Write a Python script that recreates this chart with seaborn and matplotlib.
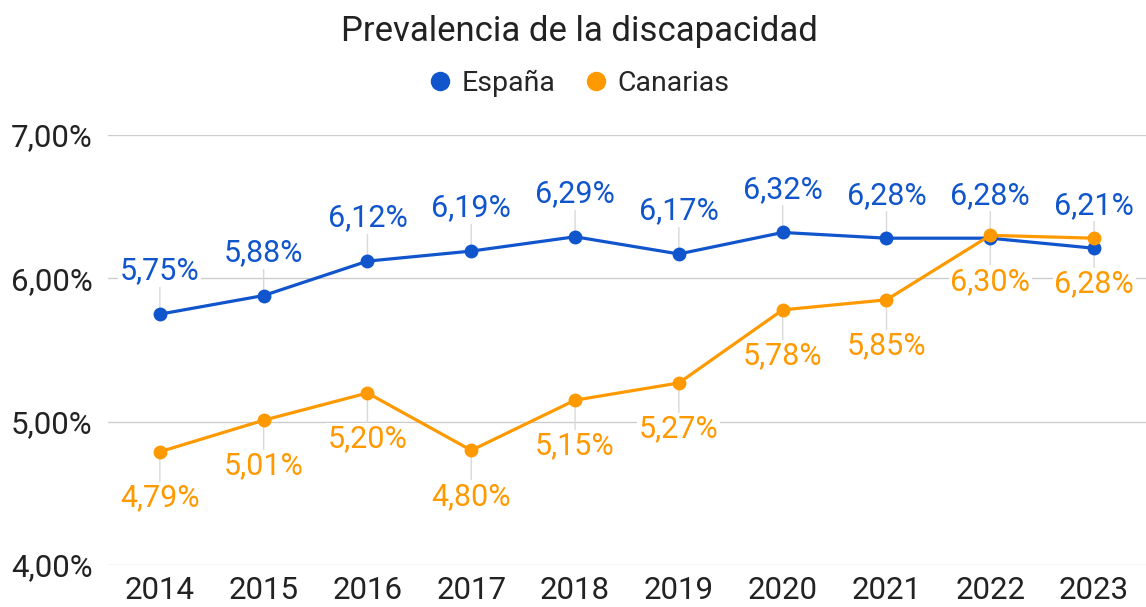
import matplotlib
matplotlib.use("Agg")
import matplotlib.pyplot as plt
from matplotlib.lines import Line2D
import seaborn as sns
import pandas as pd

# data
years = [2014, 2015, 2016, 2017, 2018, 2019, 2020, 2021, 2022, 2023]
espana = [5.75, 5.88, 6.12, 6.19, 6.29, 6.17, 6.32, 6.28, 6.28, 6.21]
canarias = [4.79, 5.01, 5.20, 4.80, 5.15, 5.27, 5.78, 5.85, 6.30, 6.28]
series = ["España", "Canarias"]
colors = {"España": "#1155cc", "Canarias": "#ff9900"}

df = pd.DataFrame({
    "year": years * 2,
    "value": espana + canarias,
    "serie": [series[0]] * len(years) + [series[1]] * len(years),
})

sns.set_style("white")
plt.rcParams["font.family"] = ["Roboto", "DejaVu Sans"]

fig = plt.figure(figsize=(11.46, 6.07), dpi=100)
ax = fig.add_axes([0.0942, 0.0692, 0.9058, 0.7084])

sns.lineplot(data=df, x="year", y="value", hue="serie", palette=colors,
             marker="o", markersize=10, markeredgewidth=0, linewidth=2.3,
             ax=ax, legend=False, zorder=3)

ax.set_xlim(2013.5, 2023.5)
ax.set_ylim(4, 7)
ax.set_yticks([4, 5, 6, 7])
ax.set_yticklabels(["4,00%", "5,00%", "6,00%", "7,00%"])
ax.set_xticks(years)
ax.set_xticklabels([str(y) for y in years])
ax.tick_params(axis="both", length=0, labelsize=22.5, colors="#222222")
ax.tick_params(axis="y", pad=11)
ax.tick_params(axis="x", pad=8)
ax.grid(axis="y", color="#cccccc", linewidth=1)
ax.set_xlabel("")
ax.set_ylabel("")
for s in ax.spines.values():
    s.set_visible(False)

def fmt(v):
    return f"{v:.2f}%".replace(".", ",")

for name, vals, dy in [("España", espana, 31), ("Canarias", canarias, -33)]:
    for x, v in zip(years, vals):
        ax.annotate(fmt(v), xy=(x, v), xytext=(0, dy), textcoords="offset points",
                    ha="center", va="center", fontsize=22, color=colors[name],
                    bbox=dict(boxstyle="square,pad=0.05", fc="white", ec="none"),
                    arrowprops=dict(arrowstyle="-", color="#d9d9d9", lw=1,
                                    shrinkA=0, shrinkB=0),
                    zorder=2)

fig.text(0.506, 0.948, "Prevalencia de la discapacidad", ha="center", va="center",
         fontsize=25, color="#222222")

handles = [Line2D([], [], linestyle="None", marker="o", markersize=14,
                  markeredgewidth=0, color=colors[s]) for s in series]
fig.legend(handles, series, loc="center", bbox_to_anchor=(0.504, 0.862), ncol=2,
           frameon=False, fontsize=20.5, handletextpad=0.25, columnspacing=0.9,
           handlelength=1.0)

fig.savefig("out.png", dpi=100)
